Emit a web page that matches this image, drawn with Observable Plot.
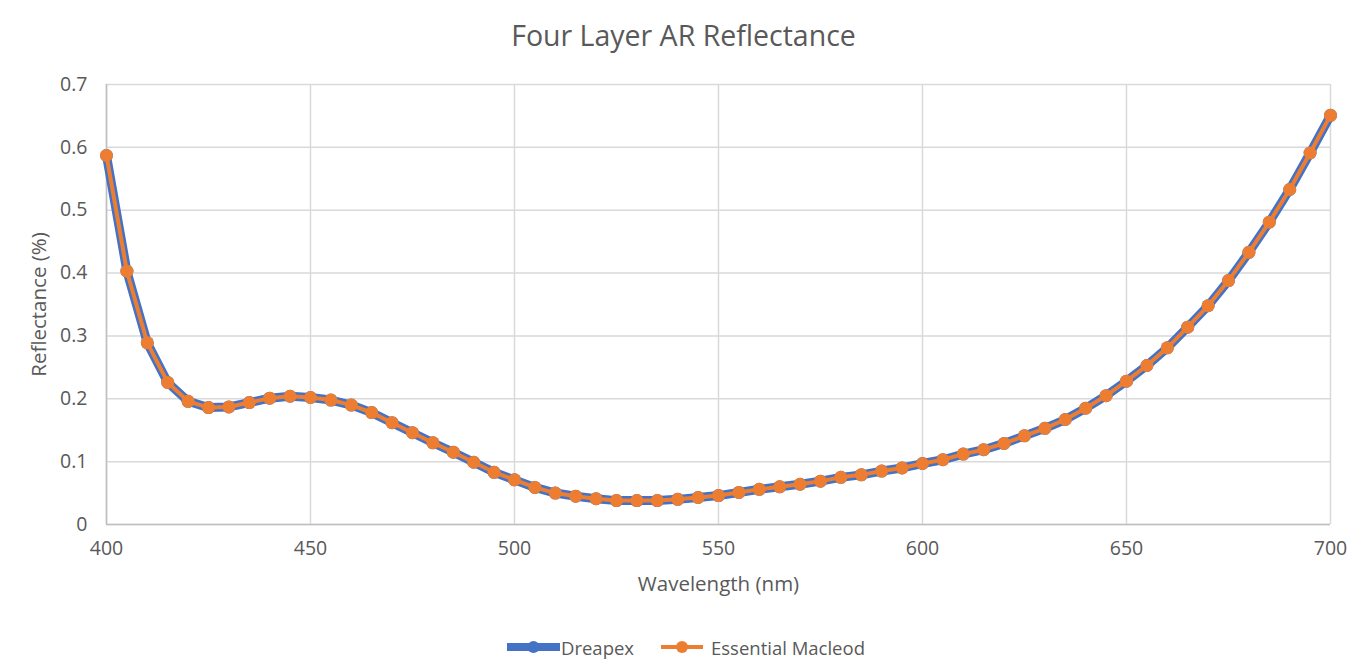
<!DOCTYPE html>
<html>
<head>
<meta charset="utf-8">
<script src="https://cdn.jsdelivr.net/npm/d3@7"></script>
<script src="https://cdn.jsdelivr.net/npm/@observablehq/plot@0.6"></script>
<style>
  html, body { margin: 0; padding: 0; background: #fff; }
  body { width: 1361px; height: 668px; overflow: hidden; font-family: "Open Sans", sans-serif; color: #595959; }
  #title { height: 60px; text-align: center; font-size: 28.5px; line-height: 70px; color: #595959; padding-left: 6px; box-sizing: border-box; }
  #legend { position: absolute; top: 633px; left: 0; width: 1361px; height: 28px; }
  #legend .item { position: absolute; top: 0; height: 28px; display: flex; align-items: center; font-size: 18.5px; color: #595959; }
</style>
</head>
<body>
<div id="title">Four Layer AR Reflectance</div>
<div id="chart"></div>
<div id="legend"></div>
<script>
const wavelengths = [400,405,410,415,420,425,430,435,440,445,450,455,460,465,470,475,480,485,490,495,500,505,510,515,520,525,530,535,540,545,550,555,560,565,570,575,580,585,590,595,600,605,610,615,620,625,630,635,640,645,650,655,660,665,670,675,680,685,690,695,700];
const dreapex = [0.587,0.403,0.289,0.226,0.196,0.186,0.187,0.194,0.201,0.204,0.202,0.198,0.190,0.178,0.162,0.146,0.130,0.115,0.099,0.083,0.071,0.059,0.050,0.045,0.041,0.038,0.038,0.038,0.040,0.043,0.046,0.051,0.056,0.060,0.064,0.069,0.075,0.079,0.085,0.090,0.097,0.103,0.112,0.119,0.129,0.141,0.153,0.167,0.185,0.205,0.228,0.253,0.281,0.314,0.348,0.388,0.433,0.481,0.533,0.591,0.651];
const macleod = [0.587,0.403,0.289,0.226,0.196,0.186,0.187,0.194,0.201,0.204,0.202,0.198,0.190,0.178,0.162,0.146,0.130,0.115,0.099,0.083,0.071,0.059,0.050,0.045,0.041,0.038,0.038,0.038,0.040,0.043,0.046,0.051,0.056,0.060,0.064,0.069,0.075,0.079,0.085,0.090,0.097,0.103,0.112,0.119,0.129,0.141,0.153,0.167,0.185,0.205,0.228,0.253,0.281,0.314,0.348,0.388,0.433,0.481,0.533,0.591,0.651];
const xTicks = [400,450,500,550,600,650,700];
const yTicks = [0,0.1,0.2,0.3,0.4,0.5,0.6,0.7];
const seriesNames = ["Dreapex","Essential Macleod"];
const seriesColors = ["#4472C4","#ED7D31"];

const dataD = wavelengths.map((w,i) => ({w, r: dreapex[i]}));
const dataM = wavelengths.map((w,i) => ({w, r: macleod[i]}));

const chart = Plot.plot({
  width: 1361,
  height: 550,
  marginTop: 24,
  marginBottom: 86,
  marginLeft: 106,
  marginRight: 31,
  style: { fontFamily: "'Open Sans', sans-serif", fontSize: "19.5px", color: "#595959", background: "#fff" },
  x: { domain: [400, 700] },
  y: { domain: [0, 0.7] },
  marks: [
    Plot.gridX(xTicks, { stroke: "#d9d9d9", strokeOpacity: 1, strokeWidth: 1.5 }),
    Plot.gridY(yTicks, { stroke: "#d9d9d9", strokeOpacity: 1, strokeWidth: 1.5 }),
    Plot.ruleX([400], { stroke: "#bfbfbf", strokeWidth: 1.5 }),
    Plot.ruleY([0], { stroke: "#bfbfbf", strokeWidth: 1.5 }),
    Plot.axisX({ ticks: xTicks, tickSize: 0, tickPadding: 17, label: null, fill: "#595959", fontSize: 19.5 }),
    Plot.axisY({ ticks: yTicks, tickSize: 0, tickPadding: 19, label: null, fill: "#595959", fontSize: 19.5, tickFormat: d => String(d) }),
    Plot.line(dataD, { x: "w", y: "r", stroke: seriesColors[0], strokeWidth: 9 }),
    Plot.dot(dataD, { x: "w", y: "r", r: 6.5, fill: seriesColors[0], stroke: "none" }),
    Plot.line(dataM, { x: "w", y: "r", stroke: seriesColors[1], strokeWidth: 4 }),
    Plot.dot(dataM, { x: "w", y: "r", r: 6.5, fill: seriesColors[1], stroke: "none" }),
    Plot.text(["Wavelength (nm)"], { frameAnchor: "bottom", dy: 66, fontSize: 20.5, fill: "#595959" }),
    Plot.text(["Reflectance (%)"], { frameAnchor: "left", textAnchor: "middle", dx: -67, rotate: -90, fontSize: 20.5, fill: "#595959" })
  ]
});
document.getElementById("chart").appendChild(chart);

// legend
const legend = document.getElementById("legend");
const legendSpec = [
  { left: 507, lineW: 53, sw: 8 },
  { left: 661, lineW: 42, sw: 4 }
];
seriesNames.forEach((name, i) => {
  const spec = legendSpec[i];
  const item = document.createElement("div");
  item.className = "item";
  item.style.left = spec.left + "px";
  const svgNS = "http://www.w3.org/2000/svg";
  const s = document.createElementNS(svgNS, "svg");
  s.setAttribute("width", spec.lineW);
  s.setAttribute("height", 28);
  const ln = document.createElementNS(svgNS, "line");
  ln.setAttribute("x1", 0); ln.setAttribute("x2", spec.lineW);
  ln.setAttribute("y1", 14); ln.setAttribute("y2", 14);
  ln.setAttribute("stroke", seriesColors[i]); ln.setAttribute("stroke-width", spec.sw);
  s.appendChild(ln);
  const c = document.createElementNS(svgNS, "circle");
  c.setAttribute("cx", spec.lineW / 2); c.setAttribute("cy", 14); c.setAttribute("r", 6);
  c.setAttribute("fill", seriesColors[i]);
  s.appendChild(c);
  item.appendChild(s);
  const t = document.createElement("span");
  t.textContent = name;
  t.style.marginLeft = (i === 0 ? 1 : 8) + "px";
  item.appendChild(t);
  legend.appendChild(item);
});
</script>
</body>
</html>
